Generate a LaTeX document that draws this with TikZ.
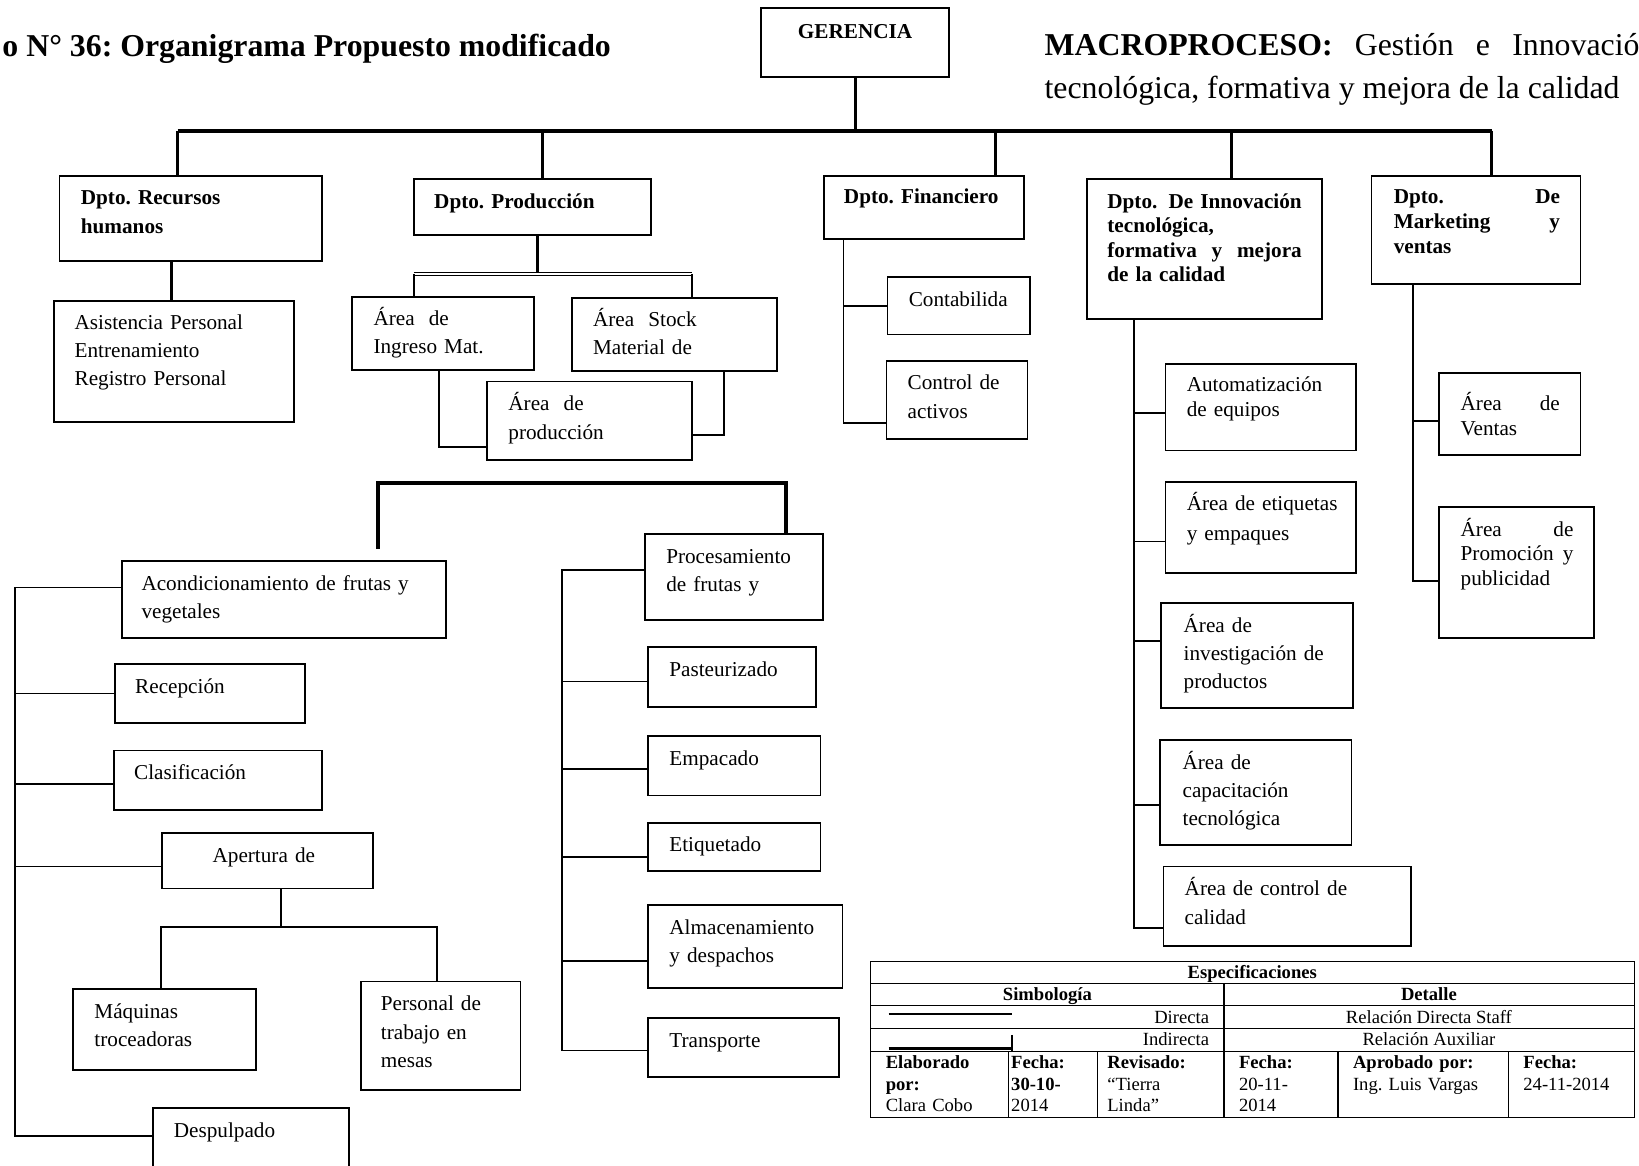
\documentclass[tikz,border=0pt]{standalone}
\usepackage{fontspec}
\setmainfont{Liberation Serif}
\usepackage{tikz}
\usetikzlibrary{positioning,fit}
\frenchspacing

\newcommand\orgtxt{\fontsize{10.6}{14.1}\selectfont}
\newcommand\orgtxtn{\fontsize{10.6}{12.3}\selectfont}
\newcommand\orgtit{\bfseries\fontsize{15.9}{21.4}\selectfont}
\newcommand\orgtab{\fontsize{9.3}{10.9}\selectfont}

\begin{document}
\begin{tikzpicture}[x=0.5226pt, y=-0.5226pt]
        \tikzset{
            box/.style={draw, line width=0.9pt, inner sep=0pt, fit={#1}},
            txt/.style={anchor=base west, inner sep=0pt, text width=#1, align=left, font=\orgtxt},
            txt/.default=160pt,
            txtn/.style={txt=#1, font=\orgtxtn},
            txtn/.default=160pt,
            head/.style={txt=#1, font=\orgtxtn\bfseries},
            head/.default=160pt,
            tab/.style={anchor=base, inner sep=0pt, font=\orgtab},
            tabl/.style={tab, anchor=base west, text width=70pt, align=left},
            link/.style={draw, line width=0.9pt},
            stem/.style={draw, line width=1.5pt},
            bar/.style={draw, line width=2pt},
            dbl/.style={draw, double, double distance=0.8pt, line width=0.45pt},
            rule/.style={draw, line width=0.6pt}
        }
        \fill[white] (0,0) rectangle (1568,1115);
        \useasboundingbox (0,0) rectangle (1568,1115);

        % Headings
        \node[anchor=base west, inner sep=0pt, font=\orgtit] (titulo) at (2,54) {o N° 36: Organigrama Propuesto modificado};
        \node[anchor=base west, inner sep=0pt, text width=297.4pt, align=justify, font=\orgtit\mdseries] (macro) at (999,53)
            {\textbf{MACROPROCESO:}\hfill Gestión\hfill e\hfill Innovació\\tecnológica, formativa y mejora de la calidad};

        % Gerencia and departments
        \node[box={(728,8) (908,74)}] (ger) {};
        \node[anchor=base, inner sep=0pt, font=\orgtxt\bfseries] (gertxt) at (818,37) {GERENCIA};

        \node[box={(57,168) (308,250)}] (rh) {};
        \node[head, font=\orgtxt\bfseries] (rhtxt) at (77,196) {Dpto. Recursos\\humanos};
        \node[box={(396,171) (623,225)}] (prod) {};
        \node[head] (prodtxt) at (415,199) {Dpto. Producción};
        \node[box={(788,168) (980,229)}] (fin) {};
        \node[head] (fintxt) at (807,195) {Dpto. Financiero};
        \node[box={(1040,171) (1265,305)}] (inno) {};
        \node[head=97.2pt] (innotxt) at (1059,199) {Dpto.\hfill De Innovación\\tecnológica,\\formativa\hfill y\hfill mejora\\de la calidad};
        \node[box={(1312,168) (1512,272)}] (mkt) {};
        \node[head=83.1pt] (mkttxt) at (1333,195) {Dpto.\hfill De\\Marketing\hfill y\\ventas};

        % Recursos humanos
        \node[box={(52,288) (281,404)}] (asis) {};
        \node[txt] (asistxt) at (71,315) {Asistencia Personal\\Entrenamiento\\Registro Personal};

        % Produccion, first level
        \node[box={(337,284) (511,354)}] (ing) {};
        \node[txt] (ingtxt) at (357,311) {Área~ de\\Ingreso Mat.};
        \node[box={(547,285) (743,355)}] (stock) {};
        \node[txt] (stocktxt) at (567,312) {Área~ Stock\\Material de};
        \node[box={(466,365) (662,440)}] (proarea) {};
        \node[txt] (proareatxt) at (486,393) {Área~ de\\producción};

        % Financiero
        \node[box={(849,265) (985,320)}] (cont) {};
        \node[txt] (conttxt) at (869,293) {Contabilida};
        \node[box={(848,345) (983,420)}] (activos) {};
        \node[txt] (activostxt) at (868,373) {Control de\\activos};

        % Innovacion
        \node[box={(1115,348) (1297,431)}] (auto) {};
        \node[txtn] (autotxt) at (1135,375) {Automatización\\de equipos};
        \node[box={(1115,461) (1297,548)}] (etiq) {};
        \node[txt, font=\fontsize{10.6}{15.2}\selectfont] (etiqtxt) at (1135,488) {Área de etiquetas\\y empaques};
        \node[box={(1111,577) (1294,677)}] (invest) {};
        \node[txt] (investtxt) at (1132,605) {Área de\\investigación de\\productos};
        \node[box={(1110,708) (1293,808)}] (capac) {};
        \node[txt] (capactxt) at (1131,736) {Área de\\capacitación\\tecnológica};
        \node[box={(1113,829) (1350,905)}] (calid) {};
        \node[txt] (calidtxt) at (1133,857) {Área de control de\\calidad};

        % Marketing
        \node[box={(1377,357) (1512,435)}] (ventas) {};
        \node[txtn=49.6pt] (ventastxt) at (1397,393) {Área\hfill de\\Ventas};
        \node[box={(1377,485) (1525,610)}] (promo) {};
        \node[txtn=56.4pt] (promotxt) at (1397,513) {Área\hfill de\\Promoción\hfill y\\publicidad};

        % Produccion, acondicionamiento
        \node[box={(117,537) (427,610)}] (acond) {};
        \node[txt] (acondtxt) at (135,565) {Acondicionamiento de frutas y\\vegetales};
        \node[box={(110,635) (292,692)}] (recep) {};
        \node[txt] (receptxt) at (129,663) {Recepción};
        \node[box={(109,718) (308,775)}] (clasif) {};
        \node[txt] (clasiftxt) at (128,746) {Clasificación};
        \node[box={(155,797) (357,850)}] (apert) {};
        \node[txt] (aperttxt) at (203,825) {Apertura de};
        \node[box={(70,946) (245,1024)}] (maq) {};
        \node[txt] (maqtxt) at (90,974) {Máquinas\\troceadoras};
        \node[box={(345,939) (498,1043)}] (pers) {};
        \node[txt] (perstxt) at (364,967) {Personal de\\trabajo en\\mesas};
        \node[box={(146,1060) (334,1130)}] (despul) {};
        \node[txt] (despultxt) at (166,1088) {Despulpado};

        % Produccion, procesamiento
        \node[box={(617,511) (787,593)}] (proc) {};
        \node[txt] (proctxt) at (637,539) {Procesamiento\\de frutas y};
        \node[box={(620,619) (781,676)}] (past) {};
        \node[txt] (pasttxt) at (640,647) {Pasteurizado};
        \node[box={(620,704) (785,761)}] (emp) {};
        \node[txt] (emptxt) at (640,732) {Empacado};
        \node[box={(620,787) (785,833)}] (etqd) {};
        \node[txt] (etqdtxt) at (640,815) {Etiquetado};
        \node[box={(620,866) (806,945)}] (alm) {};
        \node[txt] (almtxt) at (640,894) {Almacenamiento\\y despachos};
        \node[box={(620,974) (803,1030)}] (transp) {};
        \node[txt] (transptxt) at (640,1002) {Transporte};

        % Top level connections
        \coordinate (barl) at (170,125);
        \coordinate (barr) at (1427,125);
        \draw[bar] (barl) -- (barr);
        \draw[stem] (ger.south) -- (ger.south |- barl);
        \draw[stem] (barl) -- (rh.north -| barl);
        \draw[stem] (barl -| 519,0) -- (prod.north -| 519,0);
        \draw[stem] (barl -| 952,0) -- (fin.north -| 952,0);
        \draw[stem] (barl -| 1178,0) -- (inno.north -| 1178,0);
        \draw[stem] (barr) -- (mkt.north -| barr);

        % Department branches
        \draw[stem] (rh.south -| 164,0) -- (asis.north -| 164,0);

        \coordinate (pbl) at (396,262);
        \coordinate (pbr) at (662,262);
        \draw[stem] (prod.south -| 514,0) -- (pbl -| 514,0);
        \draw[dbl] (pbl) -- (pbr);
        \draw[link] (pbl) -- (ing.north -| pbl);
        \draw[link] (pbr) -- (stock.north -| pbr);
        \draw[link] (ing.south -| 420,0) |- (proarea.west |- 0,428);
        \draw[link] (stock.south -| 693,0) |- (proarea.east |- 0,416);

        \draw[link] (fin.south -| 807,0) |- (cont.west);
        \draw[link] (fin.south -| 807,0) |- (activos.west |- 0,405);

        \draw[link] (inno.south -| 1085,0) |- (auto.west |- 0,395);
        \draw[link] (inno.south -| 1085,0) |- (etiq.west |- 0,518);
        \draw[link] (inno.south -| 1085,0) |- (invest.west |- 0,613);
        \draw[link] (inno.south -| 1085,0) |- (capac.west |- 0,770);
        \draw[link] (inno.south -| 1085,0) |- (calid.west |- 0,888);

        \draw[link] (mkt.south -| 1352,0) |- (ventas.west |- 0,403);
        \draw[link] (mkt.south -| 1352,0) |- (promo.west |- 0,556);

        % Production process lines
        \coordinate (lbl) at (362,462);
        \coordinate (lbr) at (752,462);
        \coordinate (lend) at (362,525);
        \draw[bar] (lend) -- (lbl) -- (lbr) -- (proc.north -| lbr);

        \coordinate (lsp) at (14,562);
        \draw[link] (acond.west |- lsp) -- (lsp) |- (despul.west |- 0,1087);
        \draw[link] (lsp) |- (recep.west);
        \draw[link] (lsp) |- (clasif.west |- 0,750);
        \draw[link] (lsp) |- (apert.west |- 0,829);

        \coordinate (abar) at (269,887);
        \draw[link] (apert.south -| abar) -- (abar);
        \draw[link] (maq.north -| 154,0) |- (abar) -| (pers.north -| 418,0);

        \coordinate (rsp) at (538,545);
        \draw[link] (proc.west |- rsp) -- (rsp) |- (transp.west |- 0,1005);
        \draw[link] (rsp) |- (past.west |- 0,652);
        \draw[link] (rsp) |- (emp.west |- 0,736);
        \draw[link] (rsp) |- (etqd.west |- 0,820);
        \draw[link] (rsp) |- (alm.west |- 0,919);

        % Specification table
        \draw[rule] (833,920) rectangle (1564,1069);
        \draw[rule] (833,941) -- (1564,941) (833,962) -- (1564,962) (833,984) -- (1564,984) (833,1006) -- (1564,1006);
        \draw[rule] (1171,941) -- (1171,1069);
        \draw[rule] (965,1006) -- (965,1069) (1050,1006) -- (1050,1069) (1280,1006) -- (1280,1069) (1443,1006) -- (1443,1069);
        \draw[line width=1.1pt] (850,970) -- (968,970);
        \draw[line width=1.1pt] (850,1003) -- (968,1003);
        \draw[line width=0.7pt] (968,990) -- (968,1006);

        \node[tab, font=\orgtab\bfseries] (espec) at (1198,936) {Especificaciones};
        \node[tab, font=\orgtab\bfseries] (simb) at (1002,957) {Simbología};
        \node[tab, font=\orgtab\bfseries] (det) at (1367,957) {Detalle};
        \node[tab, anchor=base east] (dir) at (1157,979) {Directa};
        \node[tab] (reldir) at (1367,979) {Relación Directa Staff};
        \node[tab, anchor=base east] (ind) at (1157,1000) {Indirecta};
        \node[tab] (relaux) at (1367,1000) {Relación Auxiliar};
        \node[tabl] (elab) at (847,1022) {\textbf{Elaborado}\\\textbf{por:}\\Clara Cobo};
        \node[tabl] (fecha1) at (967,1022) {\textbf{Fecha:}\\\textbf{30-10-}\\2014};
        \node[tabl] (rev) at (1059,1022) {\textbf{Revisado:}\\“Tierra\\Linda”};
        \node[tabl] (fecha2) at (1185,1022) {\textbf{Fecha:}\\20-11-\\2014};
        \node[tabl] (aprob) at (1294,1022) {\textbf{Aprobado por:}\\Ing. Luis Vargas};
        \node[tabl] (fecha3) at (1457,1022) {\textbf{Fecha:}\\24-11-2014};

\end{tikzpicture}
\end{document}
